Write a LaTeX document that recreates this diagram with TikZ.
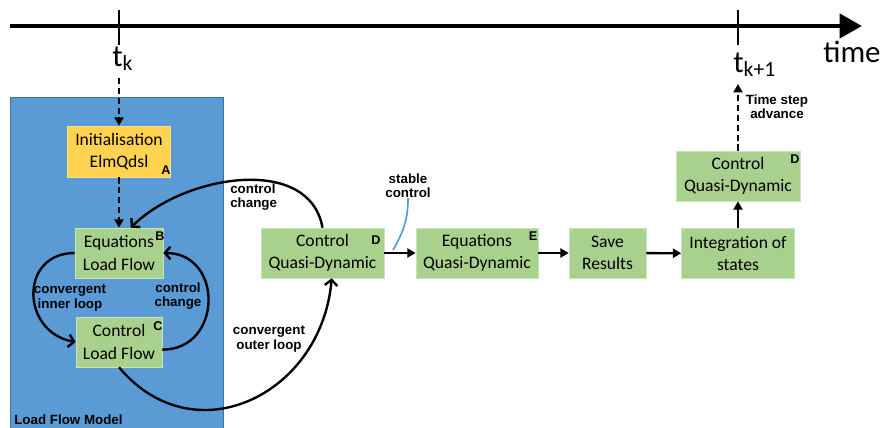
\documentclass[tikz,border=0pt]{standalone}
\usepackage{fontspec}
\setmainfont{Carlito}
\setsansfont{Liberation Sans}
\usetikzlibrary{arrows.meta, positioning}
\definecolor{lfblue}{RGB}{91,155,213}
\definecolor{lfborder}{RGB}{65,113,156}
\definecolor{stepgreen}{RGB}{169,209,142}
\definecolor{initgold}{RGB}{255,210,80}
\tikzset{
    block/.style={rectangle, draw=stepgreen!60!white, fill=stepgreen, text centered, align=center, minimum height=1.25cm, inner sep=1pt, font=\fontsize{12.5}{16}\selectfont},
    lettertag/.style={font=\sffamily\bfseries\fontsize{9}{9}\selectfont, inner sep=0pt},
    note/.style={font=\sffamily\bfseries\fontsize{9.5}{10}\selectfont, align=center, inner sep=0pt},
    flow/.style={-{Triangle[length=6pt,width=6.5pt]}, line width=1.7pt},
    loopflow/.style={-{Straight Barb[length=4pt,width=9pt]}, line width=1.7pt},
    stepflow/.style={flow, dash pattern=on 4.5pt off 2.5pt},
    timeline/.style={-{Triangle[length=16pt,width=17pt]}, line width=3.5pt},
    timetick/.style={line width=1.8pt},
    timelabel/.style={anchor=base west, inner sep=0pt, font=\fontsize{22}{22}\selectfont}
}
\begin{document}
\begin{tikzpicture}[x=0.025cm, y=-0.025cm]
    \useasboundingbox (0,0) rectangle (884,428);

    % Time axis
    \coordinate (t0) at (10,26);
    \coordinate (tend) at (862,26);
    \draw[timeline] (t0) -- (tend);
    \draw[timetick] (119,10) -- (119,45);
    \draw[timetick] (738,10) -- (738,45);
    \node[timelabel] (tk) at (112,66) {t\textsubscript{k}};
    \node[timelabel] (tk1) at (733,72) {t\textsubscript{k+1}};
    \node[timelabel] (time) at (823,62) {time};

    % Load flow model
    \node[rectangle, draw=lfborder, fill=lfblue, minimum width=5.325cm, minimum height=8.275cm] (lfm) at (116.5,262.5) {};
    \node[note, anchor=west] (lfmlabel) at (14,420) {Load Flow Model};

    % Blocks
    \node[block, fill=initgold, draw=initgold!70!white, minimum width=2.575cm, minimum height=1.275cm] (init) at (119,151.5) {Initialisation\\ElmQdsl};
    \node[block, minimum width=2.2cm] (eqlf) at (119,253) {Equations\\Load Flow};
    \node[block, minimum width=2.15cm] (ctrllf) at (119,342) {Control\\Load Flow};
    \node[block, minimum width=3.075cm] (ctrlqd) at (322.5,253) {Control\\Quasi-Dynamic};
    \node[block, minimum width=3.05cm] (eqqd) at (477,253) {Equations\\Quasi-Dynamic};
    \node[block, minimum width=1.925cm] (save) at (607.5,253) {Save\\Results};
    \node[block, minimum width=2.825cm] (integ) at (738,253.5) {Integration of\\states};
    \node[block, minimum width=3.1cm] (ctrlqd2) at (738,176) {Control\\Quasi-Dynamic};

    % Block tags
    \node[lettertag] (tagA) at (166,170) {A};
    \node[lettertag] (tagB) at (160,236) {B};
    \node[lettertag] (tagC) at (158,326) {C};
    \node[lettertag] (tagD) at (376,240) {D};
    \node[lettertag] (tagE) at (533,236) {E};
    \node[lettertag] (tagD2) at (795,159) {D};

    % Arrows
    \coordinate (tkdown) at (119,78);
    \coordinate (tkup) at (738,84);
    \draw[stepflow] (tkdown) -- (init.north);
    \draw[stepflow] (init.south) -- (eqlf.north);
    \draw[flow] (ctrlqd) -- (eqqd);
    \draw[flow] (eqqd) -- (save);
    \draw[flow] (save) -- (integ);
    \draw[flow] (integ) -- (ctrlqd2);
    \draw[stepflow] (ctrlqd2.north) -- (tkup);
    \draw[loopflow] (eqlf.west) to[out=180, in=170, looseness=1.6] (ctrllf.west);
    \draw[loopflow] (ctrllf.-10) to[out=0, in=0, looseness=1.6] (eqlf.east);
    \draw[loopflow] (ctrllf.south) to[out=-50, in=-95, looseness=1.3] (ctrlqd.-70);
    \draw[loopflow] (ctrlqd.north) to[out=100, in=45] (eqlf.65);

    % Loop labels
    \node[note, align=left, anchor=west] (lblchg1) at (230,197) {control\\change};
    \node[note] (lblinner) at (70,298) {convergent\\inner loop};
    \node[note] (lblchg2) at (178,296) {control\\change};
    \node[note] (lblouter) at (269,339) {convergent\\outer loop};
    \node[note] (stable) at (408,186) {stable\\control};
    \node[note] (advance) at (777,107) {Time step\\advance};
    \coordinate (stableend) at (393,250);
    \draw[lfblue, line width=1.2pt] (stable.south) to[out=-90, in=60] (stableend);
\end{tikzpicture}
\end{document}
